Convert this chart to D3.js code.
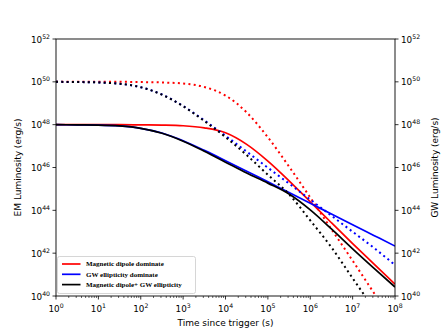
<!DOCTYPE html>
<html>
<head>
<meta charset="utf-8">
<script src="https://cdn.jsdelivr.net/npm/d3@7"></script>
<style>
  html, body { margin: 0; padding: 0; background: #fff; }
  svg { display: block; }
</style>
</head>
<body>
<svg id="chart" width="448" height="334"></svg>
<script>
// ---- data (exponents) ----
const logTime = [0, 0.5, 1, 1.5, 2, 2.5, 3, 3.5, 4, 4.5, 5, 5.5, 6, 6.5, 7, 7.5, 8];

// Magnetic dipole dominate (red)
const dipoleEM = [48.0, 48.0, 48.0, 48.0, 47.99, 47.98, 47.95, 47.85, 47.62, 47.08, 46.3, 45.38, 44.4, 43.42, 42.45, 41.5, 40.55];
const dipoleGW = [50.0, 50.0, 50.0, 50.0, 49.99, 49.97, 49.92, 49.76, 49.36, 48.57, 47.41, 46.04, 44.6, 43.12, 41.65, 40.15, 38.65];

// GW ellipticity dominate (blue)
const ellipEM = [48.0, 47.99, 47.98, 47.94, 47.83, 47.61, 47.25, 46.8, 46.32, 45.83, 45.33, 44.83, 44.33, 43.83, 43.33, 42.83, 42.33];
const ellipGW = [50.0, 49.99, 49.97, 49.91, 49.75, 49.41, 48.87, 48.2, 47.48, 46.74, 45.99, 45.25, 44.5, 43.75, 43.0, 42.25, 41.45];

// Magnetic dipole + GW ellipticity (black)
const comboEM = [48.0, 47.99, 47.98, 47.94, 47.83, 47.6, 47.23, 46.76, 46.25, 45.74, 45.27, 44.76, 44.02, 43.13, 42.2, 41.3, 40.42];
const comboGW = [50.0, 49.99, 49.97, 49.91, 49.75, 49.4, 48.86, 48.17, 47.42, 46.58, 45.66, 44.75, 43.53, 42.27, 40.83, 39.4, 37.9];

const xTickExps = [0, 1, 2, 3, 4, 5, 6, 7, 8];
const yTickExps = [40, 42, 44, 46, 48, 50, 52];

const legendLabels = ["Magnetic dipole dominate", "GW ellipticity dominate", "Magnetic dipole+ GW ellipticity"];
const seriesColors = ["#ff0000", "#0000ff", "#000000"];

const xLabel = "Time since trigger (s)";
const yLabelLeft = "EM Luminosity (erg/s)";
const yLabelRight = "GW Luminosity (erg/s)";

// ---- layout ----
const svg = d3.select("#chart");
const L = 56, R = 395, T = 39, B = 296;
const x = d3.scaleLog().domain([1, 1e8]).range([L, R]);
const y = d3.scaleLog().domain([1e40, 1e52]).range([B, T]);
const tickFont = "DejaVu Sans, sans-serif";

svg.append("defs").append("clipPath").attr("id", "clip")
  .append("rect").attr("x", L).attr("y", T).attr("width", R - L).attr("height", B - T);

const series = [
  { vals: dipoleEM, color: seriesColors[0], dotted: false },
  { vals: dipoleGW, color: seriesColors[0], dotted: true },
  { vals: ellipEM, color: seriesColors[1], dotted: false },
  { vals: ellipGW, color: seriesColors[1], dotted: true },
  { vals: comboEM, color: seriesColors[2], dotted: false },
  { vals: comboGW, color: seriesColors[2], dotted: true }
];

const line = d3.line()
  .x(d => x(Math.pow(10, d[0])))
  .y(d => y(Math.pow(10, d[1])))
  .curve(d3.curveMonotoneX);

const g = svg.append("g").attr("clip-path", "url(#clip)");
series.forEach(s => {
  const pts = logTime.map((t, i) => [t, s.vals[i]]);
  g.append("path")
    .attr("d", line(pts))
    .attr("fill", "none")
    .attr("stroke", s.color)
    .attr("stroke-width", s.dotted ? 2 : 1.7)
    .attr("stroke-dasharray", s.dotted ? "2,3.3" : null);
});

// ---- frame ----
svg.append("rect").attr("x", L).attr("y", T).attr("width", R - L).attr("height", B - T)
  .attr("fill", "none").attr("stroke", "#000").attr("stroke-width", 0.9);

// ---- x axis ----
const xAxis = svg.append("g");
xTickExps.forEach(e => {
  const px = x(Math.pow(10, e));
  xAxis.append("line").attr("x1", px).attr("x2", px).attr("y1", B).attr("y2", B + 3.5)
    .attr("stroke", "#000").attr("stroke-width", 0.8);
  const t = xAxis.append("text").attr("x", px).attr("y", B + 15.5)
    .attr("text-anchor", "middle").attr("font-family", tickFont).attr("font-size", 8.8);
  t.append("tspan").text("10");
  t.append("tspan").attr("dy", -4).attr("font-size", 6.2).text(e);
  if (e < 8) {
    for (let k = 2; k <= 9; k++) {
      const mx = x(k * Math.pow(10, e));
      xAxis.append("line").attr("x1", mx).attr("x2", mx).attr("y1", B).attr("y2", B + 2)
        .attr("stroke", "#000").attr("stroke-width", 0.6);
    }
  }
});
svg.append("text").attr("x", (L + R) / 2).attr("y", 326)
  .attr("text-anchor", "middle").attr("font-family", tickFont).attr("font-size", 9)
  .text(xLabel);

// ---- y axes ----
yTickExps.forEach(e => {
  const py = y(Math.pow(10, e));
  svg.append("line").attr("x1", L - 3.5).attr("x2", L).attr("y1", py).attr("y2", py)
    .attr("stroke", "#000").attr("stroke-width", 0.8);
  svg.append("line").attr("x1", R).attr("x2", R + 3.5).attr("y1", py).attr("y2", py)
    .attr("stroke", "#000").attr("stroke-width", 0.8);
  const tl = svg.append("text").attr("x", L - 6).attr("y", py + 3.5)
    .attr("text-anchor", "end").attr("font-family", tickFont).attr("font-size", 8.8);
  tl.append("tspan").text("10");
  tl.append("tspan").attr("dy", -4).attr("font-size", 6.2).text(e);
  const tr = svg.append("text").attr("x", R + 6).attr("y", py + 3.5)
    .attr("text-anchor", "start").attr("font-family", tickFont).attr("font-size", 8.8);
  tr.append("tspan").text("10");
  tr.append("tspan").attr("dy", -4).attr("font-size", 6.2).text(e);
});
svg.append("text").attr("transform", `translate(21,${(T + B) / 2}) rotate(-90)`)
  .attr("text-anchor", "middle").attr("font-family", tickFont).attr("font-size", 9)
  .text(yLabelLeft);
svg.append("text").attr("transform", `translate(438,${(T + B) / 2}) rotate(-90)`)
  .attr("text-anchor", "middle").attr("font-family", tickFont).attr("font-size", 9)
  .text(yLabelRight);

// ---- legend ----
const lg = svg.append("g");
lg.append("rect").attr("x", 57.5).attr("y", 256.5).attr("width", 138).attr("height", 37)
  .attr("rx", 2).attr("fill", "#fff").attr("fill-opacity", 0.85)
  .attr("stroke", "#cccccc").attr("stroke-width", 0.8);
legendLabels.forEach((lab, i) => {
  const ly = 264 + i * 10.3;
  lg.append("line").attr("x1", 62).attr("x2", 80.5).attr("y1", ly).attr("y2", ly)
    .attr("stroke", seriesColors[i]).attr("stroke-width", 1.7);
  lg.append("text").attr("x", 86).attr("y", ly + 2.4)
    .attr("font-family", "Liberation Serif, Times New Roman, serif").attr("font-weight", "bold")
    .attr("font-size", 7).text(lab);
});
</script>
</body>
</html>
